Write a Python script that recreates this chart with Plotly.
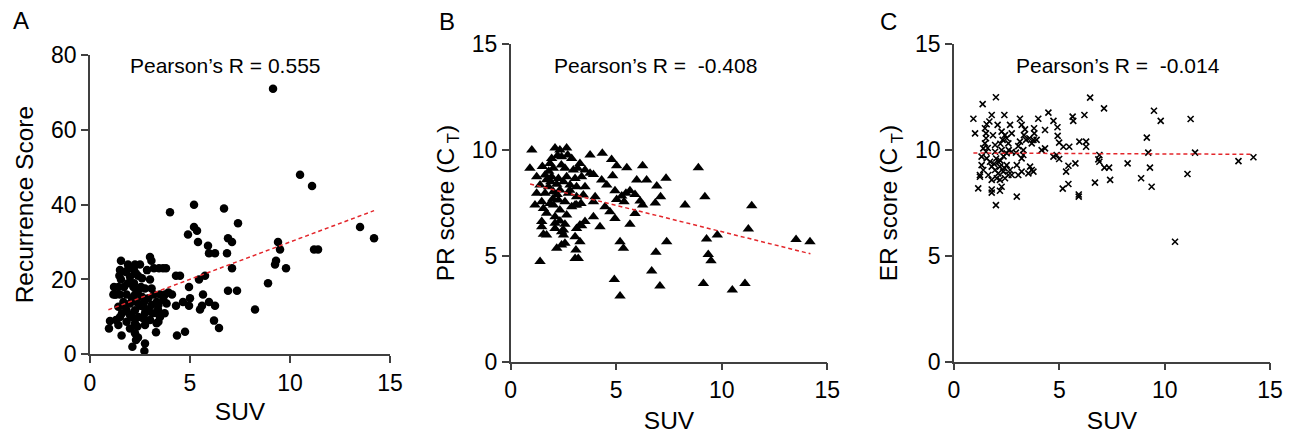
import plotly.graph_objects as go

# ---- panel A : SUV vs Recurrence Score ----
suv_a = [9.15, 10.5, 11.1, 13.5, 14.2, 11.2, 11.4, 9.4, 9.5, 9.3, 9.25, 9.8, 8.9, 8.25,
         6.7, 7.4, 6.9, 7.1, 6.85, 7.1, 6.9, 7.35,
         5.2, 4.0, 5.2, 5.35, 4.9, 5.4, 5.9, 5.95, 6.25, 5.75, 5.45, 4.95, 4.3, 4.5,
         5.65, 5.0, 4.65, 4.95, 4.3, 5.6, 5.5, 5.95, 6.25, 6.2, 6.45, 4.75, 4.35, 4.1,
         1.55, 3.0, 3.07, 1.5, 1.47, 1.92, 2.25, 2.5, 2.2, 2.85, 3.2, 3.45, 3.65, 3.8,
         1.55, 2.0, 2.3, 2.6, 3.0, 1.2, 1.42, 2.17, 2.75, 3.08, 1.17, 1.5, 1.83, 2.25,
         2.6, 3.5, 3.75, 3.92, 1.67, 2.0, 2.33, 2.92, 3.33, 3.67, 1.42, 1.83, 2.25, 2.67,
         3.08, 3.42, 3.83, 1.5, 2.0, 2.42, 2.75, 3.13, 3.73, 1.0, 1.3, 1.83, 2.25, 2.67,
         3.0, 3.42, 3.5, 3.37, 0.95, 1.42, 2.0, 2.37, 2.75, 3.33, 3.3, 1.58, 2.25, 2.4,
         2.3, 2.75, 2.12, 2.72,
         1.3, 1.7, 1.9, 2.1, 2.4, 2.5, 1.75, 2.9, 2.1, 1.9, 2.4, 1.8, 2.7, 3.2, 1.6, 2.2,
         3.4, 1.25, 2.55]
score_a = [71, 48, 45, 34, 31, 28, 28, 30, 28, 25, 24, 23, 19, 12,
           39, 35, 31, 30, 27, 23, 17, 17,
           40, 38, 34, 33, 32, 30, 29, 27, 27, 21, 20, 18, 21, 21,
           16, 15, 14, 13, 13, 13, 12, 14, 13, 9, 7, 6, 5, 16,
           25, 26, 25, 22.5, 21, 23, 24, 24, 22.5, 22.5, 23, 23, 23, 23,
           20, 20.7, 21.6, 20.3, 20, 18, 18, 18, 17.6, 17.6, 16, 16, 16, 16,
           15.4, 16, 16, 16.5, 14, 13.6, 14, 15, 14, 14.5, 12.7, 11.8, 11.8, 12.7,
           13.2, 13.2, 13.6, 10, 10.5, 10, 11, 11, 11, 8.9, 9.2, 8.7, 8.3, 9.6,
           9.2, 8.7, 10, 11, 6.9, 7.8, 6.9, 7.4, 7.8, 8.3, 5.9, 5, 5.6, 4.5,
           3.8, 2.9, 2, 0.9,
           16, 18, 19, 15, 17, 13, 13, 12, 10, 24, 21, 22, 14, 16, 11, 19,
           12, 16, 18]
fit_a_x = [0.92, 14.2]
fit_a_y = [11.9, 38.4]

# ---- panel B : SUV vs PR score ----
suv_b = [1.0, 2.1, 2.33, 2.65, 2.7, 2.22, 2.41, 1.94, 2.89, 1.86, 0.91, 1.5, 2.02, 3.76,
         4.34, 3.28, 3.17, 2.57, 2.97, 3.52, 3.76, 3.92, 1.23, 1.63, 1.94, 2.26, 2.65,
         3.05, 3.36, 4.31, 1.39, 1.79, 2.18, 2.81, 3.12, 3.52, 4.55, 1.23, 1.63, 2.02,
         2.33, 2.73, 3.12, 3.44, 1.47, 1.86, 2.26, 2.57, 3.05, 3.33, 4.0, 3.92, 1.15,
         1.55, 2.02, 2.33, 2.89, 3.12, 4.47, 1.7, 2.1, 2.65, 1.47, 2.1, 2.33, 2.57, 3.28,
         3.52, 3.92, 4.23, 1.47, 2.1, 2.5, 3.12, 3.36, 1.55, 1.7, 2.41, 2.5, 3.05, 3.28,
         2.18, 2.41, 2.57, 3.09, 1.39, 3.05, 3.2,
         1.8, 2.4, 1.9, 2.5, 2.2, 1.7, 2.0, 2.8, 4.7,
         4.78, 5.02, 5.5, 6.25, 8.89, 4.83, 5.97, 6.44, 6.92, 7.36, 4.94, 5.65, 5.46,
         5.26, 5.89, 5.02, 5.37, 6.13, 6.25, 7.1, 6.85, 9.2, 8.26, 11.42, 4.94, 5.89,
         5.65, 11.26, 9.28, 9.79, 13.52, 14.18, 7.39, 5.18, 5.34, 6.88, 9.36, 9.49,
         4.91, 5.18, 6.68, 7.07, 9.13, 11.1, 10.5]
pr_b = [10.0, 10.1, 10.0, 10.1, 9.77, 9.74, 9.69, 9.6, 9.6, 9.37, 9.14, 9.22, 9.14, 9.77,
        9.85, 9.37, 9.14, 9.14, 9.06, 9.06, 8.9, 8.85, 8.74, 8.82, 8.74, 8.66, 8.74,
        8.66, 8.74, 8.59, 8.35, 8.27, 8.38, 8.35, 8.27, 8.27, 8.35, 7.96, 7.96, 8.03,
        8.11, 7.96, 7.8, 7.88, 7.56, 7.48, 7.64, 7.56, 7.4, 7.48, 7.8, 7.56, 7.4,
        7.24, 7.4, 7.17, 7.32, 7.4, 7.32, 7.01, 6.85, 6.93, 6.62, 6.54, 6.65, 6.49, 6.46,
        6.62, 6.85, 6.38, 6.38, 6.3, 6.22, 6.3, 6.43, 6.02, 5.99, 6.14, 5.99, 5.91, 5.67,
        5.36, 5.51, 5.6, 5.28, 4.73, 4.88, 4.88,
        9.0, 9.3, 8.5, 8.5, 7.9, 8.6, 7.7, 8.1, 7.09,
        9.56, 9.26, 9.17, 9.26, 9.17, 8.79, 8.59, 8.59, 8.3, 8.67, 8.08, 8.08, 7.96,
        7.83, 7.9, 7.67, 7.56, 7.6, 7.4, 7.8, 7.5, 7.8, 7.4, 7.37, 6.77, 7.0,
        6.49, 6.27, 5.8, 5.99, 5.78, 5.67, 5.67, 5.67, 5.36, 5.17, 5.07, 4.77,
        3.89, 3.1, 4.29, 3.58, 3.7, 3.7, 3.39]
fit_b_x = [0.92, 14.2]
fit_b_y = [8.4, 5.1]

# ---- panel C : SUV vs ER score ----
suv_c = [1.99, 1.36, 0.92, 1.0, 1.79, 1.68, 1.55, 1.47, 1.52, 1.52, 2.39, 2.07, 2.66, 3.13,
         3.21, 3.37, 3.8, 4.0, 4.48, 2.26, 2.42, 2.5, 2.74, 2.31, 2.58, 3.32, 3.42, 3.58,
         3.81, 3.92, 4.32, 1.47, 1.39, 1.95, 2.26, 3.13, 3.05, 3.29, 2.94, 3.69, 3.77,
         1.52, 1.31, 1.95, 2.5, 2.74, 4.16, 4.32, 1.55, 1.71, 1.79, 1.95, 2.1, 2.18, 2.34,
         2.5, 2.66, 2.98, 3.21, 3.29, 1.31, 1.39, 1.63, 1.23, 2.74, 3.05, 3.21, 3.61, 3.69,
         3.53, 3.77, 1.79, 2.03, 2.42, 2.58, 1.23, 2.26, 2.18, 1.79, 2.18, 1.15, 1.79,
         2.98, 1.99,
         2.0, 2.2, 1.9, 2.4, 2.1, 1.85, 2.2, 2.6, 1.6, 2.35,
         4.72, 4.91, 4.92, 4.99, 5.19, 4.72, 4.87, 4.99, 5.47, 5.63, 5.66, 5.95, 6.27,
         6.27, 6.19, 5.76, 5.43, 5.32, 5.43, 5.16, 5.92, 5.92, 6.46, 7.12, 6.85, 6.9, 6.9,
         6.69, 7.14, 7.36, 7.41, 8.24, 8.88, 9.3, 9.38, 9.15, 9.22, 9.49, 9.81, 10.49,
         11.08, 11.23, 11.44, 13.5, 14.21]
er_c = [12.5, 12.17, 11.48, 10.79, 11.66, 11.35, 11.22, 11.03, 10.79, 10.56, 11.66, 11.19,
        11.19, 11.48, 11.19, 10.98, 11.03, 11.48, 11.77, 10.87, 10.71, 10.56, 10.79, 10.48,
        10.32, 10.71, 10.48, 10.56, 10.79, 10.48, 10.95, 10.32, 10.08, 10.24, 10.0, 10.4,
        10.19, 10.0, 9.88, 10.32, 10.48, 9.92, 9.69, 9.92, 9.85, 9.92, 10.0, 10.08, 9.61,
        9.45, 9.22, 9.06, 9.45, 9.22, 8.98, 9.29, 9.06, 9.29, 9.61, 9.77, 9.29, 9.06, 8.82,
        8.82, 8.82, 8.82, 8.98, 9.22, 9.06, 8.9, 8.98, 8.59, 8.67, 8.67, 8.82, 8.74, 8.27,
        8.08, 8.14, 8.59, 8.19, 7.99, 7.8, 7.4,
        9.6, 9.5, 9.35, 9.15, 8.9, 10.7, 10.3, 10.0, 10.1, 9.7,
        11.38, 11.08, 10.67, 10.35, 10.16, 9.69, 9.77, 9.58, 10.16, 11.58, 11.38, 10.4,
        10.4, 10.16, 11.66, 9.37, 9.26, 8.98, 8.4, 8.18, 7.9, 7.8, 12.48, 11.97, 9.56,
        9.45, 9.77, 8.46, 9.17, 9.17, 8.59, 9.37, 8.67, 9.17, 8.27, 10.59, 9.88, 11.86,
        11.38, 5.67, 8.87, 11.47, 9.88, 9.48, 9.66]
fit_c_x = [0.92, 14.2]
fit_c_y = [9.86, 9.8]

FONT = "Liberation Sans, Arial, sans-serif"
AXC = "#404040"
RED = "#e3262b"

fig = go.Figure()

fig.add_trace(go.Scatter(x=suv_a, y=score_a, mode="markers", cliponaxis=False,
                         marker=dict(symbol="circle", size=8.5, color="black"),
                         xaxis="x", yaxis="y"))
fig.add_trace(go.Scatter(x=fit_a_x, y=fit_a_y, mode="lines",
                         line=dict(color=RED, width=1.5, dash="4px,3px"),
                         xaxis="x", yaxis="y"))

fig.add_trace(go.Scatter(x=suv_b, y=pr_b, mode="markers", cliponaxis=False,
                         marker=dict(symbol="triangle-up", size=10, color="black"),
                         xaxis="x2", yaxis="y2"))
fig.add_trace(go.Scatter(x=fit_b_x, y=fit_b_y, mode="lines",
                         line=dict(color=RED, width=1.5, dash="4px,3px"),
                         xaxis="x2", yaxis="y2"))

fig.add_trace(go.Scatter(x=suv_c, y=er_c, mode="markers", cliponaxis=False,
                         marker=dict(symbol="x-thin-open", size=6, color="black",
                                     line=dict(color="black", width=1.6)),
                         xaxis="x3", yaxis="y3"))
fig.add_trace(go.Scatter(x=fit_c_x, y=fit_c_y, mode="lines",
                         line=dict(color=RED, width=1.5, dash="4px,3px"),
                         xaxis="x3", yaxis="y3"))

def ax(domain, rng, dtick, title, anchor, standoff):
    return dict(domain=domain, range=rng, dtick=dtick, tick0=0, anchor=anchor,
                automargin=False,
                showgrid=False, zeroline=False, showline=True, linecolor=AXC,
                linewidth=1.5, ticks="outside", ticklen=7, tickwidth=1.5,
                tickcolor=AXC, tickfont=dict(size=23, color="black"),
                title=dict(text=title, font=dict(size=24.5, color="black"),
                           standoff=standoff))

# the page body has an 8px margin, so the figure is 8px smaller than the window
ya_dom = [0.189, 0.8899]
yb_dom = [0.1717, 0.915]

fig.update_layout(
    template="none",
    width=1289, height=427,
    margin=dict(l=0, r=0, t=0, b=0, pad=0),
    paper_bgcolor="white", plot_bgcolor="white",
    showlegend=False,
    font=dict(family=FONT, color="black"),
    xaxis=ax([0.0636, 0.2964], [0, 15], 5, "SUV", "y", 8),
    yaxis=ax(ya_dom, [0, 80], 20, "Recurrence Score", "x", 10),
    xaxis2=ax([0.39, 0.6356], [0, 15], 5, "SUV", "y2", 10),
    yaxis2=ax(yb_dom, [0, 15], 5, "PR score (C<sub> T</sub>)", "x2", 10),
    xaxis3=ax([0.7339, 0.9791], [0, 15], 5, "SUV", "y3", 10),
    yaxis3=ax(yb_dom, [0, 15], 5, "ER score (C<sub> T</sub>)", "x3", 10),
)

letters = [("A", 0.0101, 0.97), ("B", 0.3406, 0.968), ("C", 0.6827, 0.969)]
for txt, x, y in letters:
    fig.add_annotation(text=txt, x=x, y=y, xref="paper", yref="paper",
                       showarrow=False, font=dict(size=24, color="black"),
                       xanchor="center", yanchor="middle")

pearson = [("Pearson’s R = 0.555", 0.1684, 0.8665),
           ("Pearson’s R = \u00a0-0.408", 0.5027, 0.8665),
           ("Pearson’s R = \u00a0-0.014", 0.8615, 0.8665)]
for txt, x, y in pearson:
    fig.add_annotation(text=txt, x=x, y=y, xref="paper", yref="paper",
                       showarrow=False, font=dict(size=21, color="black"),
                       xanchor="center", yanchor="middle")

fig.write_html("out.html")
